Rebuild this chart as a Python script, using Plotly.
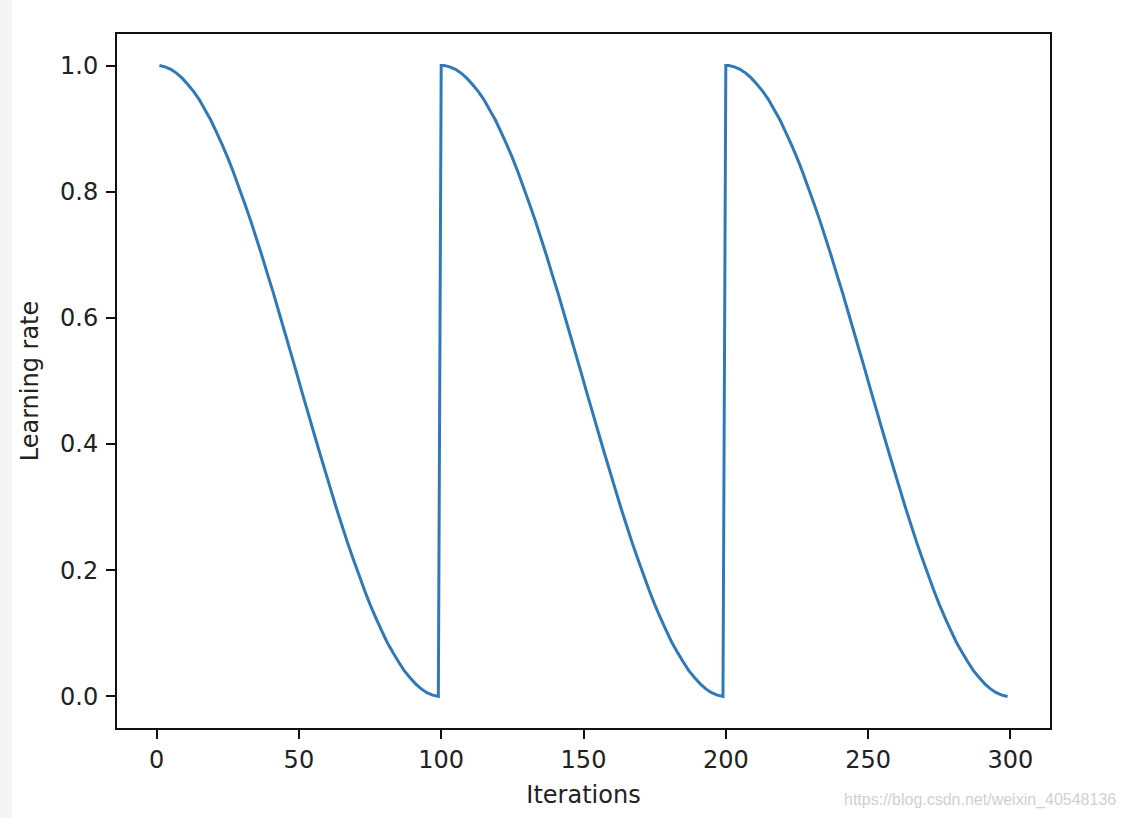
import plotly.graph_objects as go

# Data (cosine-annealing learning rate, restarts at 100 and 200)
iterations = [
    1, 3, 5, 7, 9, 11, 13, 15, 17, 19, 21, 23, 25, 27, 29, 31, 33, 35, 37, 39,
    41, 43, 45, 47, 49, 51, 53, 55, 57, 59, 61, 63, 65, 67, 69, 71, 73, 75, 77, 79,
    81, 83, 85, 87, 89, 91, 93, 95, 97, 99,
    100, 101, 103, 105, 107, 109, 111, 113, 115, 117, 119, 121, 123, 125, 127, 129, 131, 133, 135, 137, 139,
    141, 143, 145, 147, 149, 151, 153, 155, 157, 159, 161, 163, 165, 167, 169, 171, 173, 175, 177, 179,
    181, 183, 185, 187, 189, 191, 193, 195, 197, 199,
    200, 201, 203, 205, 207, 209, 211, 213, 215, 217, 219, 221, 223, 225, 227, 229, 231, 233, 235, 237, 239,
    241, 243, 245, 247, 249, 251, 253, 255, 257, 259, 261, 263, 265, 267, 269, 271, 273, 275, 277, 279,
    281, 283, 285, 287, 289, 291, 293, 295, 297, 299,
]
learning_rate = [
    1.000, 0.998, 0.994, 0.988, 0.980, 0.970, 0.959, 0.946, 0.930, 0.914,
    0.895, 0.875, 0.854, 0.831, 0.806, 0.781, 0.755, 0.727, 0.699, 0.669,
    0.640, 0.609, 0.578, 0.547, 0.516, 0.484, 0.453, 0.422, 0.391, 0.361,
    0.331, 0.301, 0.273, 0.245, 0.219, 0.194, 0.169, 0.146, 0.125, 0.105,
    0.086, 0.070, 0.055, 0.041, 0.030, 0.020, 0.012, 0.006, 0.002, 0.000,
    1.000,
    1.000, 0.998, 0.994, 0.988, 0.980, 0.970, 0.959, 0.946, 0.930, 0.914,
    0.895, 0.875, 0.854, 0.831, 0.806, 0.781, 0.755, 0.727, 0.699, 0.669,
    0.640, 0.609, 0.578, 0.547, 0.516, 0.484, 0.453, 0.422, 0.391, 0.361,
    0.331, 0.301, 0.273, 0.245, 0.219, 0.194, 0.169, 0.146, 0.125, 0.105,
    0.086, 0.070, 0.055, 0.041, 0.030, 0.020, 0.012, 0.006, 0.002, 0.000,
    1.000,
    1.000, 0.998, 0.994, 0.988, 0.980, 0.970, 0.959, 0.946, 0.930, 0.914,
    0.895, 0.875, 0.854, 0.831, 0.806, 0.781, 0.755, 0.727, 0.699, 0.669,
    0.640, 0.609, 0.578, 0.547, 0.516, 0.484, 0.453, 0.422, 0.391, 0.361,
    0.331, 0.301, 0.273, 0.245, 0.219, 0.194, 0.169, 0.146, 0.125, 0.105,
    0.086, 0.070, 0.055, 0.041, 0.030, 0.020, 0.012, 0.006, 0.002, 0.000,
]
x_ticks = [0, 50, 100, 150, 200, 250, 300]
x_tick_text = ["0", "50", "100", "150", "200", "250", "300"]
y_ticks = [0.0, 0.2, 0.4, 0.6, 0.8, 1.0]
y_tick_text = ["0.0", "0.2", "0.4", "0.6", "0.8", "1.0"]

FONT = "DejaVu Sans"
TXT = "#222222"

fig = go.Figure()
fig.add_trace(go.Scatter(
    x=iterations, y=learning_rate, mode="lines",
    line=dict(color="#3079b9", width=3, simplify=False),
    showlegend=False, hoverinfo="skip",
))

axis_common = dict(
    showgrid=False, zeroline=False,
    showline=True, linecolor="#111111", linewidth=2, mirror=True,
    ticks="outside", ticklen=9, tickwidth=2, tickcolor="#111111",
    tickfont=dict(family=FONT, size=24, color=TXT),
)

fig.update_layout(
    width=1128, height=818,
    margin=dict(l=117, r=78, t=34, b=90),
    paper_bgcolor="white", plot_bgcolor="white",
    font=dict(family=FONT, color=TXT),
    xaxis=dict(
        range=[-13.9, 313.9], tickmode="array", tickvals=x_ticks,
        ticktext=x_tick_text, ticklabelstandoff=0,
        title=dict(text="Iterations", font=dict(family=FONT, size=24, color=TXT), standoff=13),
        **axis_common,
    ),
    yaxis=dict(
        range=[-0.05, 1.05], tickmode="array", tickvals=y_ticks,
        ticktext=y_tick_text, ticklabelstandoff=3,
        title=dict(text="Learning rate", font=dict(family=FONT, size=24, color=TXT), standoff=15),
        **axis_common,
    ),
    shapes=[dict(
        type="rect", xref="paper", yref="paper",
        x0=-117 / 933, x1=-105 / 933, y0=-90 / 694, y1=1 + 34 / 694,
        fillcolor="#f4f4f4", line=dict(width=0), layer="below",
    )],
    annotations=[dict(
        text="https://blog.csdn.net/weixin_40548136",
        xref="paper", yref="paper", x=1 + 68 / 933, y=-72 / 694,
        xanchor="right", yanchor="middle", showarrow=False,
        font=dict(family="Liberation Sans", size=16, color="#d0d0d0"),
    )],
)

fig.write_html(
    "out.html",
    config={"displayModeBar": False},
    post_script="document.body.style.margin='0';document.body.style.overflow='hidden';",
)
